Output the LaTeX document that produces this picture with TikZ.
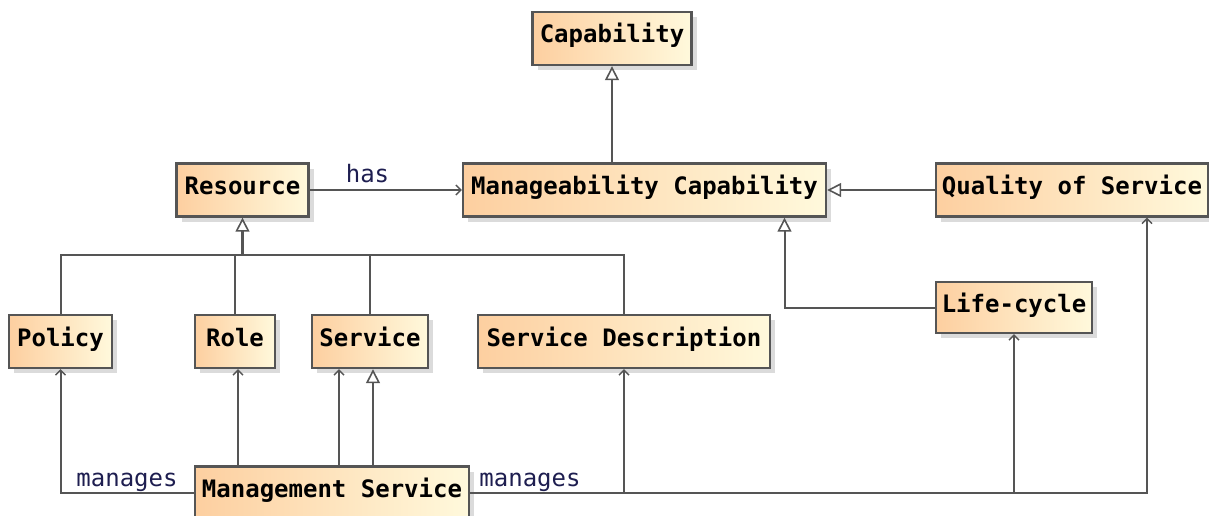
\documentclass[tikz,border=0pt]{standalone}
\usepackage{fontspec}
\newfontfamily\boxfont{DejaVu Sans Mono}
\usetikzlibrary{arrows.meta,shadows,calc}
\definecolor{boxleft}{HTML}{FDCFA0}
\definecolor{boxright}{HTML}{FFF9DC}
\definecolor{edge}{HTML}{555555}
\definecolor{lbl}{HTML}{1E1E50}
\tikzset{
  cls/.style={draw=edge, line width=2.4pt, shading=axis, left color=boxleft, right color=boxright,
    drop shadow={shadow xshift=5pt, shadow yshift=-5pt, fill=black!28},
    minimum height=53pt, inner sep=0pt, text height=14pt, text depth=5pt,
    font=\boxfont\bfseries\fontsize{24}{28}\selectfont, text=black},
  conn/.style={draw=edge, line width=2pt},
  gen/.style={conn, -{Triangle[open, length=14pt, width=14pt, line width=1.6pt]}},
  assoc/.style={conn, -{Straight Barb[length=5pt, width=10pt, line width=1.4pt]}},
  lab/.style={font=\boxfont\fontsize{24}{28}\selectfont, text=lbl, inner sep=0pt}
}
\begin{document}
\begin{tikzpicture}[x=1pt,y=-1pt]
\useasboundingbox (0,0) rectangle (1209,516);
\node[cls, minimum width=159pt] (cap) at (612,38.5) {Capability};
\node[cls, minimum width=363pt] (mc) at (644.5,190) {Manageability Capability};
\node[cls, minimum width=272pt] (qos) at (1072,190) {Quality of Service};
\node[cls, minimum width=132pt] (res) at (242.5,190) {Resource};
\node[cls, minimum width=103pt] (pol) at (60.5,341.5) {Policy};
\node[cls, minimum width=80pt] (role) at (235,341.5) {Role};
\node[cls, minimum width=116pt] (serv) at (370,341.5) {Service};
\node[cls, minimum width=292pt] (sd) at (624,341.5) {Service Description};
\node[cls, minimum width=156pt, minimum height=51pt] (lc) at (1014,307.5) {Life-cycle};
\node[cls, minimum width=274pt] (ms) at (332,493) {Management Service};
\coordinate (busR) at (242.5,255);
\coordinate (servA) at ([xshift=-31pt]serv.south);
\coordinate (servG) at ([xshift=3pt]serv.south);
\coordinate (roleA) at ([xshift=3pt]role.south);
\coordinate (mcG) at ([xshift=140pt]mc.south);
\coordinate (qosA) at ([xshift=75pt]qos.south);
% generalisations to Resource
\draw[conn] (pol.north) |- (busR);
\draw[conn] (role.north) |- (busR);
\draw[conn] (serv.north) |- (busR);
\draw[conn] (sd.north) |- (busR);
\draw[gen, line width=3.6pt] (busR) -- (res.south);
% has
\draw[assoc] (res.east) -- (mc.west) node[lab, pos=0.38, above=6pt] {has};
% generalisations to capabilities
\draw[gen] (mc.north -| cap.south) -- (cap.south);
\draw[gen] (qos.west) -- (mc.east);
\draw[gen] (lc.west) -| (mcG);
% Management Service
\draw[assoc] (ms.north -| roleA) -- (roleA);
\draw[assoc] (ms.north -| servA) -- (servA);
\draw[gen] (ms.north -| servG) -- (servG);
\draw[assoc] (ms.west) -| (pol.south);
\node[lab] (m1) at (127,482) {manages};
\draw[assoc] (ms.east) -| (qosA);
\draw[assoc] (ms.east -| sd.south) -- (sd.south);
\draw[assoc] (ms.east -| lc.south) -- (lc.south);
\node[lab] (m2) at (530,482) {manages};
\end{tikzpicture}
\end{document}
